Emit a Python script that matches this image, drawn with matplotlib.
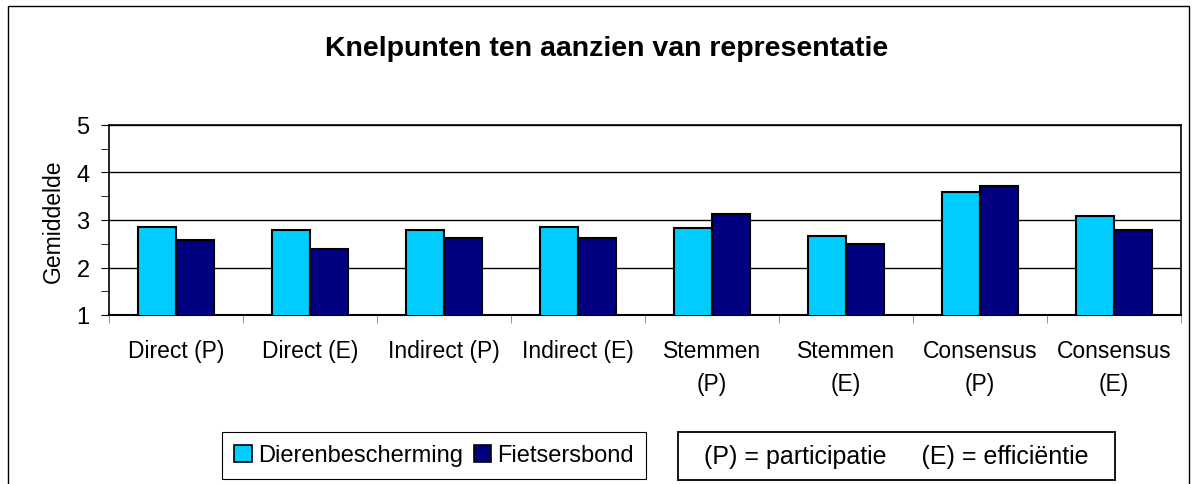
"""
Knelpunten ten aanzien van representatie - gegroepeerde staafdiagram
"""

import numpy as np
import matplotlib
matplotlib.use("Agg")
import matplotlib.pyplot as plt
from matplotlib.patches import Rectangle, Patch
from matplotlib.ticker import MultipleLocator, FixedLocator, NullFormatter

# ─── data ───────────────────────────────────────────────────────────────────
categories = ["Direct (P)", "Direct (E)", "Indirect (P)", "Indirect (E)",
              "Stemmen\n(P)", "Stemmen\n(E)", "Consensus\n(P)", "Consensus\n(E)"]
dierenbescherming = [2.86, 2.78, 2.78, 2.86, 2.83, 2.66, 3.59, 3.08]
fietsersbond      = [2.57, 2.40, 2.62, 2.62, 3.12, 2.49, 3.72, 2.79]
series_names = ["Dierenbescherming", "Fietsersbond"]
# ────────────────────────────────────────────────────────────────────────────

plt.rcParams["font.family"] = ["Liberation Sans", "DejaVu Sans"]

LIGHT = "#00CCFF"
DARK = "#000080"
W, H = 1192, 485


def px_box(x0, y0, x1, y1):
    """pixelbox (bovenaan = 0) -> figuurcoördinaten"""
    return (x0 / W, 1 - y1 / H, (x1 - x0) / W, (y1 - y0) / H)


fig = plt.figure(figsize=(W / 100, H / 100), dpi=100)
ax = fig.add_axes(px_box(109, 126, 1181, 316))

x = np.arange(len(categories))
w = 1 / 3.5  # Excel gap width 150%
ax.bar(x - w / 2, dierenbescherming, w, color=LIGHT,
       edgecolor="black", linewidth=1.5, zorder=3)
ax.bar(x + w / 2, fietsersbond, w, color=DARK,
       edgecolor="black", linewidth=1.5, zorder=3)

ax.set_ylim(1, 5)
ax.set_xlim(-0.5, len(categories) - 0.5)
ax.yaxis.set_major_locator(MultipleLocator(1))
ax.yaxis.set_minor_locator(MultipleLocator(0.5))
ax.grid(axis="y", which="major", color="black", linewidth=1, zorder=0)
ax.tick_params(axis="y", which="major", labelsize=17, length=6, pad=8)
ax.tick_params(axis="y", which="minor", length=6)

ax.set_xticks(x)
ax.set_xticklabels(categories, fontsize=16.5, linespacing=1.6)
ax.tick_params(axis="x", which="major", length=0, pad=17)
ax.xaxis.set_minor_locator(FixedLocator(np.arange(-0.5, len(categories), 1)))
ax.xaxis.set_minor_formatter(NullFormatter())
ax.tick_params(axis="x", which="minor", length=6, color="gray")

for s in ax.spines.values():
    s.set_color("black")
    s.set_linewidth(1.2)
ax.spines["bottom"].set_linewidth(1.5)

ax.set_ylabel("Gemiddelde", fontsize=16.5, labelpad=8)
fig.text(0.5088, 0.900, "Knelpunten ten aanzien van representatie",
         ha="center", va="center", fontsize=20.5, fontweight="bold")

# legenda in eigen kader
fig.patches.append(Rectangle(px_box(222, 433, 646, 480)[:2], 424 / W, 47 / H,
                             transform=fig.transFigure, fill=False,
                             edgecolor="black", linewidth=0.8))
handles = [Patch(facecolor=LIGHT, edgecolor="black", linewidth=1.2),
           Patch(facecolor=DARK, edgecolor="black", linewidth=1.2)]
fig.legend(handles, series_names, loc="center",
           bbox_to_anchor=(434 / W, 1 - 456.5 / H), ncol=2, fontsize=17,
           frameon=False, handlelength=0.75, handleheight=0.75,
           handletextpad=0.25, columnspacing=0.45, borderpad=0)

# verklaring (P)/(E)
fig.patches.append(Rectangle(px_box(678, 433, 1115, 481)[:2], 437 / W, 48 / H,
                             transform=fig.transFigure, fill=False,
                             edgecolor="black", linewidth=1.3))
fig.text(896.5 / W, 1 - 457 / H, "(P) = participatie     (E) = efficiëntie",
         ha="center", va="center", fontsize=18)

# rand om de hele grafiek
fig.patches.append(Rectangle((8 / W, -0.05), (1189 - 8) / W, 1.05 - 7 / H,
                             transform=fig.transFigure, fill=False,
                             edgecolor="black", linewidth=1))

fig.savefig("out.png", dpi=100)
